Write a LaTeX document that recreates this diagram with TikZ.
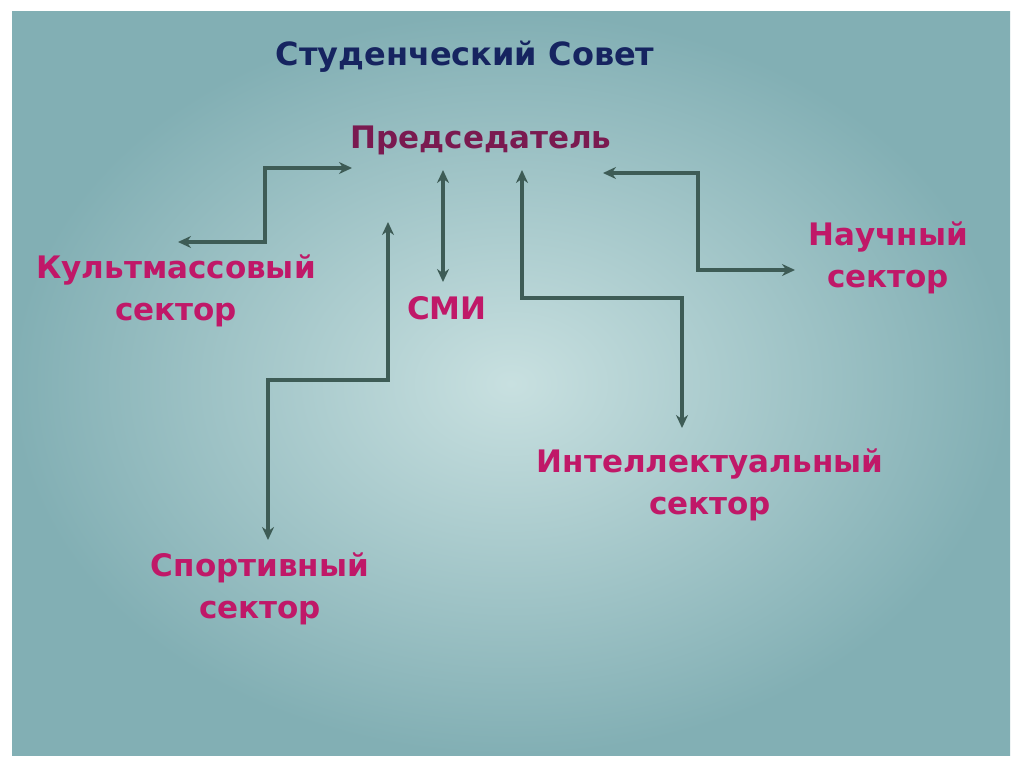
\documentclass[tikz,border=0pt]{standalone}
\usepackage{fontspec}
\setmainfont{DejaVu Sans}
\usetikzlibrary{arrows.meta}
\definecolor{arr}{RGB}{62,92,86}
\definecolor{pinkt}{RGB}{192,24,104}
\definecolor{chair}{RGB}{122,26,80}
\definecolor{titlec}{RGB}{22,36,96}
\definecolor{bgout}{RGB}{130,175,180}
\definecolor{bgin}{RGB}{200,224,224}
\tikzset{
  conn/.style={draw=arr,line width=3.5pt,{Stealth[length=13pt,width=12pt]}-{Stealth[length=13pt,width=12pt]}},
  lab/.style={text=pinkt,font=\bfseries\fontsize{31}{42}\selectfont,align=center},
}
\begin{document}
\begin{tikzpicture}[x=1pt,y=-1pt]
\useasboundingbox (0,0) rectangle (1024,768);
\fill[white] (0,0) rectangle (1024,768);
\shade[inner color=bgin,outer color=bgout] (12,12) rectangle (1010,755);
\node[text=titlec,font=\bfseries\fontsize{32}{38}\selectfont] (title) at (465,57) {Студенческий Совет};
\node[text=chair,font=\bfseries\fontsize{31}{37}\selectfont] (chair) at (481,140) {Председатель};
\node[lab] (kult) at (176,291) {Культмассовый\\сектор};
\node[lab] (smi) at (447,308) {СМИ};
\node[lab] (nauch) at (888,258) {Научный\\сектор};
\node[lab] (intel) at (710,485) {Интеллектуальный\\сектор};
\node[lab] (sport) at (260,589) {Спортивный\\сектор};
\coordinate (k1) at (352,168); \coordinate (k2) at (178,242);
\coordinate (s1) at (443,170); \coordinate (s2) at (443,282);
\coordinate (p1) at (388,222); \coordinate (p2) at (268,540);
\coordinate (i1) at (522,170); \coordinate (i2) at (682,428);
\coordinate (n1) at (603,173); \coordinate (n2) at (795,270);
\draw[conn] (k1) -- (265,168) -- (265,242) -- (k2);
\draw[conn] (s1) -- (s2);
\draw[conn] (p1) -- (388,380) -- (268,380) -- (p2);
\draw[conn] (i1) -- (522,298) -- (682,298) -- (i2);
\draw[conn] (n1) -- (698,173) -- (698,270) -- (n2);
\end{tikzpicture}
\end{document}
